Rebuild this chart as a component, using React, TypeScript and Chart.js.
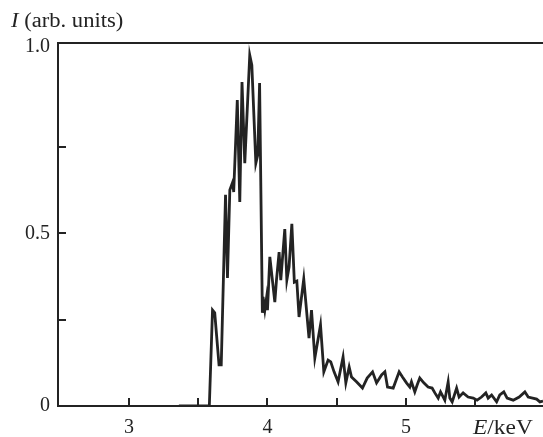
import React, { useEffect, useRef } from "react";
import { Chart, registerables } from "chart.js";

Chart.register(...registerables);

const energy: number[] = [
  3.36, 3.58, 3.603, 3.619, 3.65, 3.666, 3.697, 3.711, 3.728, 3.749,
  3.756, 3.782, 3.8, 3.816, 3.836, 3.872, 3.887, 3.916, 3.93, 3.943,
  3.963, 3.968, 3.981, 3.993, 4.0, 4.017, 4.033, 4.053, 4.065, 4.084,
  4.096, 4.125, 4.14, 4.156, 4.176, 4.194, 4.212, 4.228, 4.262, 4.3,
  4.318, 4.342, 4.383, 4.407, 4.438, 4.457, 4.481, 4.51, 4.546, 4.566,
  4.59, 4.607, 4.643, 4.686, 4.72, 4.759, 4.788, 4.824, 4.848, 4.867,
  4.908, 4.951, 4.975, 5.004, 5.028, 5.04, 5.064, 5.081, 5.1, 5.129,
  5.16, 5.189, 5.209, 5.233, 5.25, 5.281, 5.305, 5.317, 5.334, 5.366,
  5.384, 5.413, 5.449, 5.486, 5.514, 5.546, 5.577, 5.594, 5.619, 5.655,
  5.678, 5.707, 5.731, 5.775, 5.818, 5.859, 5.883, 5.915, 5.944, 5.968,
  5.99,
];

const intensity: number[] = [
  0, 0, 0.278, 0.27, 0.119, 0.119, 0.612, 0.371, 0.626, 0.649,
  0.62, 0.887, 0.591, 0.939, 0.704, 1.017, 0.988, 0.704, 0.728, 0.936,
  0.27, 0.316, 0.278, 0.313, 0.278, 0.432, 0.374, 0.301, 0.365, 0.446,
  0.365, 0.513, 0.365, 0.403, 0.528, 0.359, 0.362, 0.258, 0.368, 0.197,
  0.278, 0.139, 0.235, 0.099, 0.133, 0.128, 0.099, 0.07, 0.142, 0.067,
  0.113, 0.084, 0.07, 0.052, 0.081, 0.099, 0.067, 0.09, 0.099, 0.055,
  0.052, 0.099, 0.084, 0.067, 0.055, 0.07, 0.041, 0.061, 0.081, 0.067,
  0.055, 0.052, 0.038, 0.023, 0.041, 0.017, 0.07, 0.023, 0.012, 0.052,
  0.026, 0.038, 0.026, 0.023, 0.017, 0.026, 0.038, 0.023, 0.032, 0.012,
  0.032, 0.041, 0.023, 0.017, 0.026, 0.041, 0.026, 0.023, 0.02, 0.012,
  0.014,
];

const xTickValues: number[] = [3, 3.5, 4, 4.5, 5, 5.5];
const xTickLabels: string[] = ["3", "", "4", "", "5", ""];
const yTickValues: number[] = [0, 0.25, 0.5, 0.75, 1.04];
const yTickLabels: string[] = ["0", "", "0.5", "", "1.0"];

const X_MIN = 2.487;
const X_MAX = 5.99;
const Y_MIN = 0;
const Y_MAX = 1.052;

const SERIF = '"Liberation Serif", "DejaVu Serif", serif';
const INK = "#232323";

function drawMixed(ctx: any, parts: [string, boolean][], x: number, y: number, sx: number) {
  ctx.save();
  ctx.translate(x, y);
  ctx.scale(sx, 1);
  let cx = 0;
  for (const [txt, italic] of parts) {
    ctx.font = `${italic ? "italic " : ""}20px ${SERIF}`;
    ctx.fillText(txt, cx, 0);
    cx += ctx.measureText(txt).width;
  }
  ctx.restore();
}

const framePlugin = {
  id: "framePlugin",
  afterDraw(chart: any) {
    const { ctx, chartArea, scales } = chart;
    const { left, right, top, bottom } = chartArea;
    ctx.save();
    ctx.strokeStyle = INK;
    ctx.lineWidth = 2;
    ctx.beginPath();
    ctx.moveTo(left - 1, top);
    ctx.lineTo(right, top);
    for (let i = 1; i < yTickValues.length - 1; i++) {
      const py = Math.round(scales.y.getPixelForValue(yTickValues[i]));
      ctx.moveTo(left, py);
      ctx.lineTo(left + 8, py);
    }
    for (const v of xTickValues) {
      const px = Math.round(scales.x.getPixelForValue(v));
      ctx.moveTo(px, bottom);
      ctx.lineTo(px, bottom - 8);
    }
    ctx.stroke();

    ctx.fillStyle = INK;
    ctx.textBaseline = "alphabetic";
    ctx.textAlign = "left";
    drawMixed(ctx, [["I", true], [" (arb. units)", false]], 11, 27, 1.13);
    drawMixed(ctx, [["E", true], ["/keV", false]], 473, 434, 1.17);
    ctx.restore();
  },
};

export default function App() {
  const canvasRef = useRef<HTMLCanvasElement | null>(null);

  useEffect(() => {
    document.body.style.margin = "0";
    const canvas = canvasRef.current;
    if (!canvas) return;
    const chart = new Chart(canvas, {
      type: "line",
      data: {
        datasets: [
          {
            data: energy.map((e, i) => ({ x: e, y: intensity[i] })),
            borderColor: INK,
            borderWidth: 2.8,
            pointRadius: 0,
            tension: 0,
            fill: false,
          },
        ],
      },
      options: {
        animation: false,
        responsive: false,
        maintainAspectRatio: false,
        layout: { padding: { top: 43, right: 0, left: 0, bottom: 0 } },
        plugins: {
          legend: { display: false },
          tooltip: { enabled: false },
          title: { display: false },
        },
        scales: {
          x: {
            type: "linear",
            min: X_MIN,
            max: X_MAX,
            grid: { display: false, drawTicks: false },
            border: { display: true, color: INK, width: 2 },
            afterBuildTicks: (scale: any) => {
              scale.ticks = xTickValues.map((v) => ({ value: v }));
            },
            afterFit: (scale: any) => {
              scale.height = 31;
            },
            ticks: {
              autoSkip: false,
              maxRotation: 0,
              padding: 10,
              color: INK,
              font: { family: SERIF, size: 20 },
              callback: (_v: any, i: number) => xTickLabels[i],
            },
          },
          y: {
            type: "linear",
            min: Y_MIN,
            max: Y_MAX,
            grid: { display: false, drawTicks: false },
            border: { display: true, color: INK, width: 2 },
            afterBuildTicks: (scale: any) => {
              scale.ticks = yTickValues.map((v) => ({ value: v }));
            },
            afterFit: (scale: any) => {
              scale.width = 58;
            },
            ticks: {
              autoSkip: false,
              padding: 8,
              color: INK,
              font: { family: SERIF, size: 20 },
              callback: (_v: any, i: number) => yTickLabels[i],
            },
          },
        },
      },
      plugins: [framePlugin],
    });
    return () => chart.destroy();
  }, []);

  return (
    <div style={{ width: 543, height: 437, background: "#fff" }}>
      <canvas ref={canvasRef} width={543} height={437} style={{ display: "block" }} />
    </div>
  );
}
